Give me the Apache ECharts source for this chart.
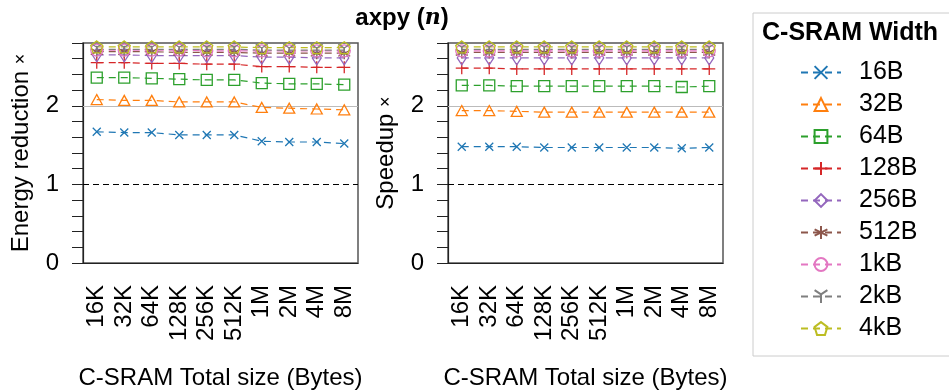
<!DOCTYPE html>
<html>
<head>
<meta charset="utf-8">
<script src="https://cdn.jsdelivr.net/npm/echarts@6/dist/echarts.min.js"></script>
<style>
  html, body { margin: 0; padding: 0; background: #fff; }
  #chart { width: 949px; height: 392px; }
</style>
</head>
<body>
<div id="chart"></div>
<script>
// categories (C-SRAM total size)
const sizes = ['16K', '32K', '64K', '128K', '256K', '512K', '1M', '2M', '4M', '8M'];
const widths = ['16B', '32B', '64B', '128B', '256B', '512B', '1kB', '2kB', '4kB'];

// energy reduction (left panel)
const energy16B  = [1.67, 1.66, 1.66, 1.63, 1.63, 1.63, 1.55, 1.54, 1.54, 1.52];
const energy32B  = [2.08, 2.07, 2.07, 2.05, 2.05, 2.05, 1.98, 1.97, 1.96, 1.95];
const energy64B  = [2.36, 2.36, 2.35, 2.34, 2.33, 2.33, 2.29, 2.28, 2.28, 2.27];
const energy128B = [2.55, 2.55, 2.54, 2.54, 2.53, 2.53, 2.50, 2.50, 2.49, 2.49];
const energy256B = [2.65, 2.65, 2.64, 2.64, 2.64, 2.64, 2.62, 2.62, 2.61, 2.61];
const energy512B = [2.69, 2.69, 2.69, 2.68, 2.68, 2.68, 2.67, 2.67, 2.67, 2.67];
const energy1kB  = [2.71, 2.71, 2.71, 2.71, 2.70, 2.70, 2.70, 2.70, 2.70, 2.70];
const energy2kB  = [2.72, 2.72, 2.72, 2.72, 2.72, 2.72, 2.71, 2.71, 2.71, 2.71];
const energy4kB  = [2.75, 2.75, 2.75, 2.75, 2.75, 2.75, 2.74, 2.74, 2.74, 2.74];

// speedup (right panel)
const speed16B  = [1.48, 1.48, 1.48, 1.47, 1.47, 1.47, 1.47, 1.47, 1.46, 1.47];
const speed32B  = [1.94, 1.94, 1.93, 1.92, 1.92, 1.92, 1.92, 1.92, 1.92, 1.92];
const speed64B  = [2.26, 2.26, 2.25, 2.25, 2.25, 2.25, 2.25, 2.25, 2.24, 2.25];
const speed128B = [2.48, 2.48, 2.47, 2.47, 2.47, 2.47, 2.47, 2.47, 2.47, 2.47];
const speed256B = [2.61, 2.61, 2.61, 2.61, 2.61, 2.61, 2.61, 2.61, 2.61, 2.61];
const speed512B = [2.68, 2.68, 2.68, 2.68, 2.68, 2.68, 2.68, 2.68, 2.68, 2.68];
const speed1kB  = [2.70, 2.70, 2.70, 2.70, 2.70, 2.70, 2.70, 2.70, 2.70, 2.70];
const speed2kB  = [2.72, 2.72, 2.72, 2.72, 2.72, 2.72, 2.72, 2.72, 2.72, 2.72];
const speed4kB  = [2.75, 2.75, 2.75, 2.75, 2.75, 2.75, 2.75, 2.75, 2.75, 2.75];

const energyData = [energy16B, energy32B, energy64B, energy128B, energy256B, energy512B, energy1kB, energy2kB, energy4kB];
const speedData = [speed16B, speed32B, speed64B, speed128B, speed256B, speed512B, speed1kB, speed2kB, speed4kB];

const colors = ['#1f77b4', '#ff7f0e', '#2ca02c', '#d62728', '#9467bd', '#8c564b', '#e377c2', '#7f7f7f', '#bcbd22'];
// matplotlib-like marker outlines
const markers = [
  'path://M0,0L10,10M10,0L0,10',
  'path://M5,0L10,9L0,9Z',
  'path://M0,0L10,0L10,10L0,10Z',
  'path://M5,0L5,10M0,5L10,5',
  'path://M5,0L10,8L5,16L0,8Z',
  'path://M5,0L5,10M0.67,2.5L9.33,7.5M0.67,7.5L9.33,2.5',
  'path://M10,5A5,5,0,1,1,0,5A5,5,0,1,1,10,5Z',
  'path://M5,5L5,10M5,5L0.67,2.5M5,5L9.33,2.5',
  'path://M5,0L10,3.6L8.1,9.5L1.9,9.5L0,3.6Z'
];
const markerSizes = [[8, 8], [11, 10], [11, 11], [12, 12], [9, 14], [12, 12], [12, 12], [12, 12], [12, 12]];

const font = 'Liberation Sans, Arial, sans-serif';

function makeSeries(dataList, axisIdx) {
  return dataList.map((vals, i) => {
    const s = {
      name: widths[i],
      type: 'line',
      xAxisIndex: axisIdx,
      yAxisIndex: axisIdx,
      data: vals,
      symbol: markers[i],
      symbolSize: markerSizes[i],
      showAllSymbol: true,
      lineStyle: { color: colors[i], width: 1.2, type: [7, 5] },
      itemStyle: { color: 'rgba(0,0,0,0)', borderColor: colors[i], borderWidth: 1.3 },
      emphasis: { disabled: true },
      animation: false
    };
    if (i === 0) {
      s.markLine = {
        silent: true,
        symbol: 'none',
        label: { show: false },
        data: [
          { yAxis: 1, lineStyle: { color: '#000', type: [6, 4], width: 1 } },
          { yAxis: 2, lineStyle: { color: '#bbb', type: 'solid', width: 1 } }
        ],
        z: 1
      };
    }
    return s;
  });
}

function xAxisOpt(gridIdx) {
  return {
    type: 'category',
    gridIndex: gridIdx,
    data: sizes,
    boundaryGap: true,
    name: 'C-SRAM Total size (Bytes)',
    nameLocation: 'middle',
    nameGap: 103,
    nameTextStyle: { fontFamily: font, fontSize: 24, color: '#000' },
    axisLine: { lineStyle: { color: '#222', width: 1.2 } },
    axisTick: { alignWithLabel: true, length: 12, lineStyle: { color: '#222' } },
    axisLabel: { rotate: 90, margin: 22, fontFamily: font, fontSize: 24, color: '#000', interval: 0 },
    splitLine: { show: false }
  };
}

function yAxisOpt(gridIdx, title, gap) {
  return {
    type: 'value',
    gridIndex: gridIdx,
    min: 0,
    max: 2.8,
    interval: 0.2,
    name: title,
    nameLocation: 'middle',
    nameGap: gap,
    nameRotate: 90,
    nameTextStyle: {
      fontFamily: font, fontSize: 24, color: '#000',
      rich: { x: { fontFamily: font, fontSize: 18, color: '#000' } }
    },
    axisLine: { show: true, lineStyle: { color: '#222', width: 1.2 } },
    axisTick: { show: true, length: 11, lineStyle: { color: '#222' } },
    axisLabel: {
      margin: 24, fontFamily: font, fontSize: 24, color: '#000',
      formatter: v => (Math.abs(v - Math.round(v)) < 1e-6 ? String(Math.round(v)) : '')
    },
    splitLine: { show: false }
  };
}

const chart = echarts.init(document.getElementById('chart'), null, { renderer: 'canvas' });
chart.setOption({
  animation: false,
  backgroundColor: '#fff',
  title: [
    {
      text: '{b|axpy (}{i|n}{b|)}',
      left: 402, top: 6, textAlign: 'center', padding: 0,
      textStyle: {
        rich: {
          b: { fontFamily: font, fontSize: 24, fontWeight: 'bold', color: '#000' },
          i: { fontFamily: 'DejaVu Serif, serif', fontSize: 22, fontStyle: 'italic', fontWeight: 'bold', color: '#000' }
        }
      }
    },
    {
      text: 'C-SRAM Width',
      left: 762, top: 21, padding: 0,
      textStyle: { fontFamily: font, fontSize: 25, fontWeight: 'bold', color: '#000' }
    }
  ],
  legend: {
    data: widths,
    orient: 'vertical',
    left: 753,
    top: 13,
    height: 360,
    padding: [47, 160, 15, 47],
    borderColor: '#ccc',
    borderWidth: 1,
    itemWidth: 40,
    itemHeight: 16,
    itemGap: 7,
    selectedMode: false,
    textStyle: { fontFamily: font, fontSize: 25, color: '#000', padding: [0, 0, 0, 13] }
  },
  grid: [
    { left: 83, top: 43, width: 275, height: 220, show: true, borderColor: '#555', borderWidth: 1.5, outerBoundsMode: 'none' },
    { left: 448, top: 43, width: 275, height: 220, show: true, borderColor: '#555', borderWidth: 1.5, outerBoundsMode: 'none' }
  ],
  xAxis: [xAxisOpt(0), xAxisOpt(1)],
  yAxis: [
    yAxisOpt(0, 'Energy reduction {x|×}', 50),
    yAxisOpt(1, 'Speedup {x|×}', 50)
  ],
  series: makeSeries(energyData, 0).concat(makeSeries(speedData, 1))
});
</script>
</body>
</html>
